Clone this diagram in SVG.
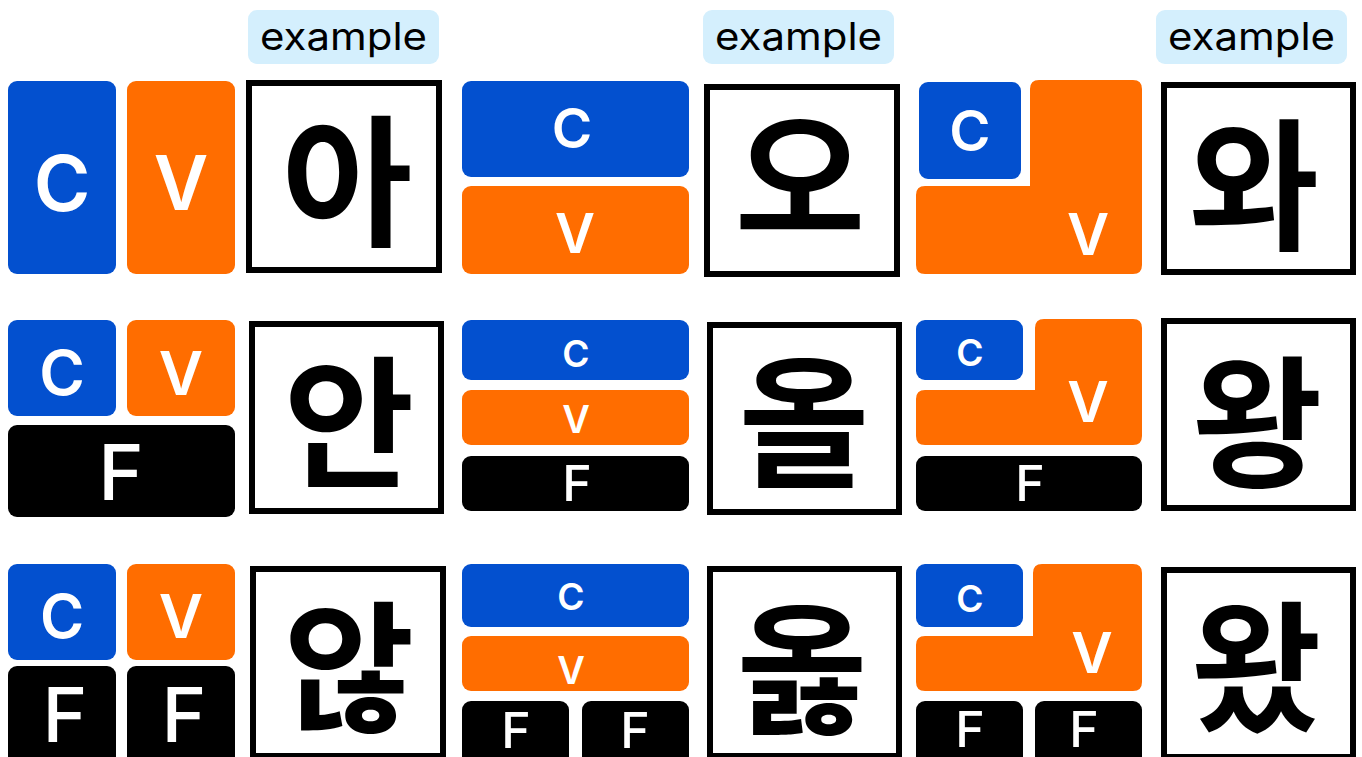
<svg xmlns="http://www.w3.org/2000/svg" width="1362" height="757" viewBox="0 0 1362 757">
<style>
.c{fill:#0350CF}
.v{fill:#FF6D00}
.f{fill:#000}
.lbl{fill:#D4EFFD}
.lt{font-family:Inter,"Open Sans",sans-serif;font-size:38px;fill:#000;text-anchor:middle}
.t{font-family:Inter,"Open Sans",sans-serif;font-weight:600;fill:#fff;text-anchor:middle}
.tf{font-family:Inter,"Open Sans",sans-serif;font-weight:500;fill:#fff;text-anchor:middle}
.box{fill:#fff;stroke:#000;stroke-width:6}
.k{font-family:"Noto Sans CJK KR",sans-serif;font-weight:700;font-size:142px;fill:#000;text-anchor:middle}
</style>
<rect width="1362" height="757" fill="#fff"/>
<g id="labels">
<rect class="lbl" x="248" y="10" width="191" height="54" rx="9"/>
<text class="lt" x="343.5" y="50" textLength="167" lengthAdjust="spacingAndGlyphs">example</text>
<rect class="lbl" x="703" y="10" width="191" height="54" rx="9"/>
<text class="lt" x="798.5" y="50" textLength="167" lengthAdjust="spacingAndGlyphs">example</text>
<rect class="lbl" x="1156" y="10" width="191" height="54" rx="9"/>
<text class="lt" x="1251.5" y="50" textLength="167" lengthAdjust="spacingAndGlyphs">example</text>
</g>
<g id="p1">
<rect class="c" x="8" y="81" width="108" height="193" rx="9"/>
<rect class="v" x="127" y="81" width="108" height="193" rx="9"/>
<text class="t" x="62" y="211" font-size="77">C</text>
<text class="t" x="181" y="210" font-size="75">V</text>
<rect class="box" x="249" y="83" width="190" height="187"/>
<text class="k" x="347" y="235">아</text>
</g>
<g id="p2">
<rect class="c" x="462" y="81" width="227" height="96" rx="9"/>
<rect class="v" x="462" y="186" width="227" height="88" rx="9"/>
<text class="t" x="572" y="148" font-size="55">C</text>
<text class="t" x="575" y="253" font-size="55">V</text>
<rect class="box" x="707" y="87" width="190" height="187"/>
<text class="k" x="800" y="232">오</text>
</g>
<g id="p3">
<rect class="c" x="919" y="82" width="102" height="97" rx="9"/>
<path class="v" d="M1039 80H1133Q1142 80 1142 89V265Q1142 274 1133 274H925Q916 274 916 265V195Q916 186 925 186H1030V89Q1030 80 1039 80Z"/>
<text class="t" x="970" y="151" font-size="56">C</text>
<text class="t" x="1088" y="255" font-size="58">V</text>
<rect class="box" x="1164" y="85" width="189" height="187"/>
<text class="k" x="1254" y="239">와</text>
</g>
<g id="p4">
<rect class="c" x="8" y="320" width="108" height="96" rx="9"/>
<rect class="v" x="127" y="320" width="108" height="96" rx="9"/>
<rect class="f" x="8" y="425" width="227" height="92" rx="9"/>
<text class="t" x="62" y="395" font-size="62">C</text>
<text class="t" x="181" y="395" font-size="61">V</text>
<text class="tf" x="121" y="500" font-size="77">F</text>
<rect class="box" x="252" y="324" width="189" height="187"/>
<text class="k" x="349" y="476">안</text>
</g>
<g id="p5">
<rect class="c" x="462" y="320" width="227" height="60" rx="9"/>
<rect class="v" x="462" y="390" width="227" height="55" rx="9"/>
<rect class="f" x="462" y="456" width="227" height="55" rx="9"/>
<text class="t" x="576" y="367" font-size="37">C</text>
<text class="t" x="576" y="433" font-size="38">V</text>
<text class="tf" x="577" y="501" font-size="50">F</text>
<rect class="box" x="710" y="325" width="189" height="187"/>
<text class="k" x="804" y="476">올</text>
</g>
<g id="p6">
<rect class="c" x="916" y="320" width="107" height="60" rx="9"/>
<path class="v" d="M1044 319H1133Q1142 319 1142 328V436Q1142 445 1133 445H925Q916 445 916 436V399Q916 390 925 390H1035V328Q1035 319 1044 319Z"/>
<rect class="f" x="916" y="456" width="226" height="55" rx="9"/>
<text class="t" x="970" y="366" font-size="37">C</text>
<text class="t" x="1088" y="422" font-size="57">V</text>
<text class="tf" x="1030" y="501" font-size="50">F</text>
<rect class="box" x="1164" y="321" width="189" height="187"/>
<text class="k" x="1257" y="476">왕</text>
</g>
<g id="p7">
<rect class="c" x="8" y="564" width="108" height="96" rx="9"/>
<rect class="v" x="127" y="564" width="108" height="96" rx="9"/>
<rect class="f" x="8" y="666" width="108" height="110" rx="9"/>
<rect class="f" x="127" y="666" width="108" height="110" rx="9"/>
<text class="t" x="62" y="638" font-size="60">C</text>
<text class="t" x="181" y="638" font-size="61">V</text>
<text class="tf" x="65" y="742" font-size="76">F</text>
<text class="tf" x="184" y="742" font-size="76">F</text>
<rect class="box" x="253" y="569" width="190" height="187"/>
<text class="k" x="349" y="721">않</text>
</g>
<g id="p8">
<rect class="c" x="462" y="564" width="227" height="63" rx="9"/>
<rect class="v" x="462" y="636" width="227" height="55" rx="9"/>
<rect class="f" x="462" y="701" width="107" height="80" rx="9"/>
<rect class="f" x="582" y="701" width="107" height="80" rx="9"/>
<text class="t" x="571" y="610" font-size="37">C</text>
<text class="t" x="571" y="684" font-size="38">V</text>
<text class="tf" x="516" y="748" font-size="50">F</text>
<text class="tf" x="635" y="748" font-size="50">F</text>
<rect class="box" x="710" y="569" width="189" height="187"/>
<text class="k" x="802" y="723">옳</text>
</g>
<g id="p9">
<rect class="c" x="916" y="564" width="107" height="63" rx="9"/>
<path class="v" d="M1042 564H1133Q1142 564 1142 573V682Q1142 691 1133 691H925Q916 691 916 682V645Q916 636 925 636H1033V573Q1033 564 1042 564Z"/>
<rect class="f" x="916" y="701" width="107" height="80" rx="9"/>
<rect class="f" x="1035" y="701" width="107" height="80" rx="9"/>
<text class="t" x="970" y="612" font-size="37">C</text>
<text class="t" x="1092" y="673" font-size="57">V</text>
<text class="tf" x="970" y="747" font-size="50">F</text>
<text class="tf" x="1084" y="747" font-size="50">F</text>
<rect class="box" x="1164" y="570" width="189" height="187"/>
<text class="k" x="1256" y="721">왔</text>
</g>
<g id="connectors"/>
</svg>
